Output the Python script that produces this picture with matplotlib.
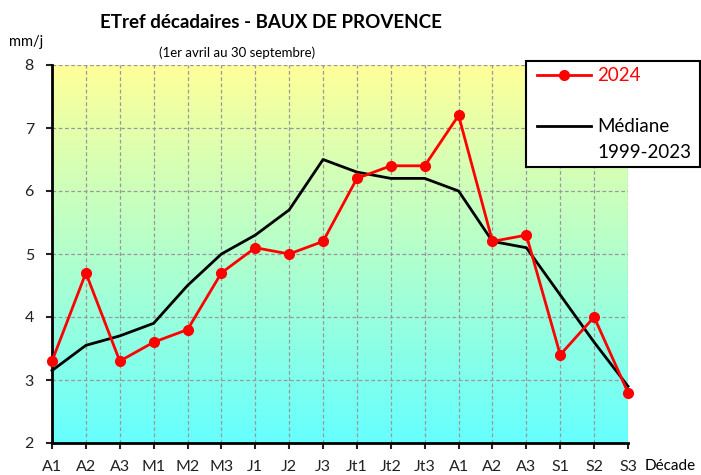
import numpy as np
import matplotlib
matplotlib.use("Agg")
from matplotlib import pyplot as plt
from matplotlib.patches import Rectangle
from matplotlib.lines import Line2D

# decades from 1 April to 30 September
decades = ["A1", "A2", "A3", "M1", "M2", "M3", "J1", "J2", "J3",
           "Jt1", "Jt2", "Jt3", "A1", "A2", "A3", "S1", "S2", "S3"]
etref_2024 = [3.3, 4.7, 3.3, 3.6, 3.8, 4.7, 5.1, 5.0, 5.2,
              6.2, 6.4, 6.4, 7.2, 5.2, 5.3, 3.4, 4.0, 2.8]
mediane = [3.15, 3.55, 3.7, 3.9, 4.5, 5.0, 5.3, 5.7, 6.5,
           6.3, 6.2, 6.2, 6.0, 5.2, 5.1, 4.35, 3.6, 2.9]
y_ticks = [2, 3, 4, 5, 6, 7, 8]

plt.rcParams['font.family'] = ['Lato', 'DejaVu Sans']

W, H = 701, 475
fig = plt.figure(figsize=(W / 100, H / 100), dpi=100)
fig.subplots_adjust(left=52 / W, right=628 / W, top=1 - 65 / H, bottom=1 - 443 / H)
ax = fig.add_subplot(111)

x = np.arange(len(decades))

# yellow -> cyan background
top = np.array([255, 255, 153]) / 255
bot = np.array([102, 255, 255]) / 255
t = np.linspace(0, 1, 256)[:, None]
grad = (top * (1 - t) + bot * t)[:, None, :]
ax.imshow(grad, extent=(0, 1, 0, 1), transform=ax.transAxes,
          aspect='auto', zorder=0, interpolation='bilinear')

ax.plot(x, mediane, color='black', lw=2, zorder=3, clip_on=False)
ax.plot(x, etref_2024, color='red', lw=2, marker='o', ms=7, zorder=4,
        clip_on=False)

ax.set_xlim(0, len(decades) - 1)
ax.set_ylim(2, 8)
ax.set_xticks(x)
ax.set_xticklabels(decades)
ax.set_yticks(y_ticks)
ax.set_axisbelow(True)
ax.grid(True, color='#999999', ls=(0, (3, 2)), lw=0.9)

ax.spines['top'].set_visible(False)
ax.spines['right'].set_visible(False)
ax.spines['left'].set_linewidth(2)
ax.spines['bottom'].set_linewidth(2)
ax.tick_params(axis='both', direction='out', length=4, width=1.5,
               labelsize=11.5, colors='#222222')
ax.tick_params(axis='y', pad=9)
ax.tick_params(axis='x', pad=8)

fig.text(271 / W, 1 - 22 / H, "ETref décadaires - BAUX DE PROVENCE",
         ha='center', va='center', fontsize=13.5, fontweight='bold')
fig.text(237 / W, 1 - 53 / H, "(1er avril au 30 septembre)",
         ha='center', va='center', fontsize=9.5)
fig.text(26 / W, 1 - 42 / H, "mm/j", ha='center', va='center', fontsize=10.5)
fig.text(670 / W, 1 - 466 / H, "Décade", ha='center', va='center', fontsize=11)

# legend box
fig.patches.append(Rectangle((526 / W, 1 - 167 / H), 174 / W, 106 / H,
                             transform=fig.transFigure, facecolor='white',
                             edgecolor='black', lw=1.5, zorder=5))
handles = [Line2D([], [], color='red', lw=2, marker='o', ms=7),
           Line2D([], [], color='none'),
           Line2D([], [], color='black', lw=2),
           Line2D([], [], color='none')]
leg = fig.legend(handles, ["2024", " ", "Médiane", "1999-2023"],
                 loc='center left', bbox_to_anchor=(537 / W, 1 - 114 / H),
                 frameon=False, fontsize=13.5, handlelength=2.9,
                 handletextpad=0.3, labelspacing=0.45, borderaxespad=0,
                 borderpad=0)
leg.get_texts()[0].set_color('red')
leg.set_zorder(6)

fig.savefig("out.png", dpi=100)
